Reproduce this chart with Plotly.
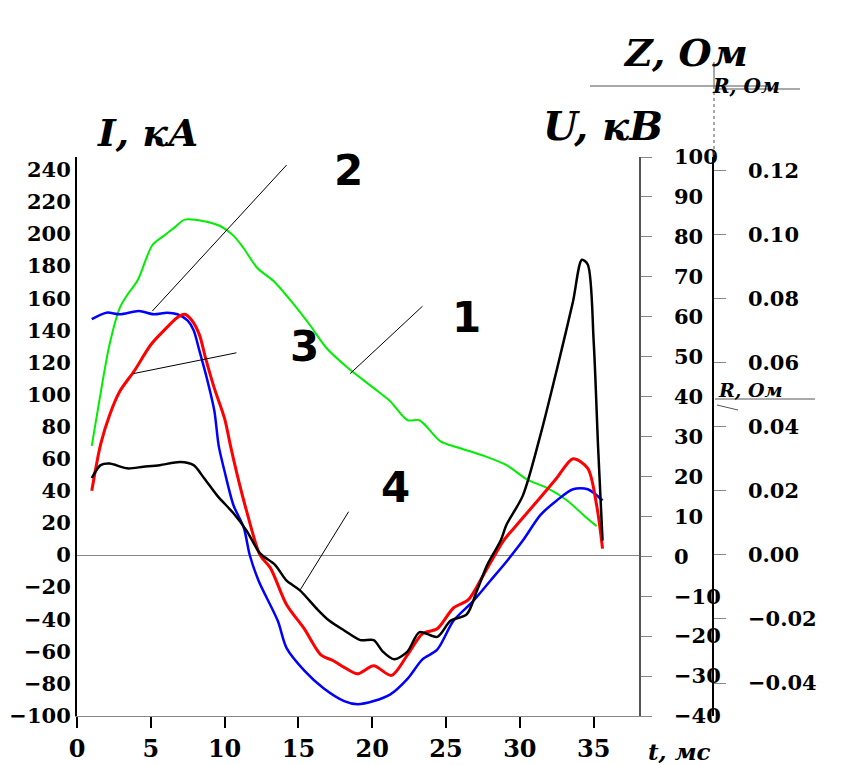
import plotly.graph_objects as go

# ---------------- data ----------------
t1 = [1.0, 1.4, 2.2, 2.9, 3.4, 4.1, 5.1, 5.9, 6.6, 7.3, 8.6, 9.7, 10.6, 11.3, 12.2, 13.4, 14.7,
      15.8, 16.9, 18.3, 20.1, 21.2, 22.4, 23.2, 24.6, 25.8, 27.5, 29.1, 30.5, 31.8, 33.2, 34.3, 35.2]
v1 = [68, 90, 131, 154, 162, 171, 193, 199, 204, 209, 208, 205, 199, 191, 179, 170, 156,
      143, 129, 117, 104, 96, 84, 84, 71, 67, 62, 56, 47, 42, 34, 25, 18]

t2 = [1.0, 2.0, 2.9, 4.2, 5.2, 6.1, 6.8, 7.5, 7.9, 8.3, 8.8, 9.3, 9.6, 10.0, 10.6, 11.3, 11.7, 12.3,
      13.6, 14.2, 15.4, 16.7, 18.1, 19.0, 20.1, 21.2, 22.4, 23.4, 24.4, 25.5, 26.8, 28.0, 29.1,
      30.2, 31.4, 32.5, 33.6, 34.6, 35.6]
v2 = [147, 151, 150, 152, 150, 151, 150, 146, 140, 127, 110, 90, 68, 52, 31, 17, 0, -16,
      -41, -58, -72, -83, -91, -93, -91, -87, -77, -65, -59, -41, -29, -16, -4,
      9, 25, 34, 41, 41, 34]

t3 = [1.0, 1.6, 2.2, 2.9, 3.9, 5.0, 5.9, 6.8, 7.3, 7.8, 8.3, 8.7, 9.3, 10.0, 10.4, 10.8, 11.5,
      12.4, 13.1, 14.2, 15.4, 16.5, 17.4, 18.1, 19.0, 20.1, 21.3, 22.4, 23.4, 24.4, 25.5, 26.5,
      27.5, 28.9, 30.0, 31.4, 32.5, 33.6, 34.6, 35.2, 35.6]
v3 = [40, 69, 87, 102, 115, 131, 140, 148, 150, 146, 137, 123, 104, 85, 68, 52, 27,
      0, -8, -31, -46, -62, -66, -70, -74, -69, -75, -62, -49, -46, -33, -28,
      -13, 9, 21, 36, 48, 60, 54, 31, 4]

t4 = [1.0, 1.6, 2.2, 3.4, 4.5, 5.6, 7.0, 7.9, 8.6, 9.5, 10.6, 11.5, 12.4, 13.4, 14.2, 15.1,
      16.3, 17.1, 18.1, 19.2, 20.1, 20.7, 21.5, 22.4, 23.2, 24.4, 25.3, 26.4, 27.1, 27.8,
      28.7, 29.1, 30.2, 31.4, 32.7, 33.6, 34.2, 34.6, 35.0, 35.3, 35.6]
v4 = [48, 56, 57, 54, 55, 56, 58, 56, 48, 37, 26, 15, 1, -6, -16, -22,
      -34, -41, -47, -53, -53, -60, -65, -60, -48, -51, -41, -37, -22, -6,
      9, 19, 37, 75, 123, 158, 184, 181, 133, 67, 9]

x_ticks = [0, 5, 10, 15, 20, 25, 30, 35]
i_ticks = list(range(-100, 241, 20))
u_ticks = list(range(-40, 101, 10))
r_ticks = [-0.04, -0.02, 0.0, 0.02, 0.04, 0.06, 0.08, 0.10, 0.12]

curve_labels = ["1", "2", "3", "4"]
# leader lines: (label end) -> (point on curve), in data units
leaders = [((23.4, 155), (18.5, 113)),
           ((14.2, 243), (5.1, 152)),
           ((10.8, 126), (3.8, 113)),
           ((18.4, 27), (15.1, -22))]

# ---------------- figure ----------------
W, H = 852, 765
L, R, T, B = 77, 92, 157, 49
PW = W - L - R
PH = H - T - B


def px(x):
    return (x - L) / PW


def py(y):
    return (H - B - y) / PH


label_px = [(466, 291), (348, 144), (288, 346), (395, 487)]

tickfont = dict(family="DejaVu Serif", size=21, color="black", weight="bold")

fig = go.Figure()
fig.add_trace(go.Scatter(x=t1, y=v1, mode="lines", line=dict(color="#00ee00", width=2, shape="spline", smoothing=0.8), showlegend=False))
fig.add_trace(go.Scatter(x=t2, y=v2, mode="lines", line=dict(color="#0000ff", width=2.5, shape="spline", smoothing=0.8), showlegend=False))
fig.add_trace(go.Scatter(x=t3, y=v3, mode="lines", line=dict(color="#ff0000", width=3, shape="spline", smoothing=0.8), showlegend=False))
fig.add_trace(go.Scatter(x=t4, y=v4, mode="lines", line=dict(color="#000000", width=2.5, shape="spline", smoothing=0.8), showlegend=False))

# invisible traces to activate the extra axes
fig.add_trace(go.Scatter(x=[0], y=[0], yaxis="y2", mode="markers", marker=dict(opacity=0), showlegend=False, hoverinfo="skip"))
fig.add_trace(go.Scatter(x=[0], y=[0], yaxis="y3", mode="markers", marker=dict(opacity=0), showlegend=False, hoverinfo="skip"))

x_end = 38.07
fig.update_layout(
    width=W, height=H,
    margin=dict(l=L, r=R, t=T, b=B, pad=0, autoexpand=False),
    paper_bgcolor="white", plot_bgcolor="white",
    xaxis=dict(domain=[0, (639 - L) / PW], range=[0, x_end], tickvals=x_ticks, automargin=False,
               showline=True, linecolor="#888888", linewidth=1, ticks="outside", ticklen=11,
               tickcolor="black", tickwidth=1.5, showgrid=False, zeroline=False,
               tickfont=dict(family="DejaVu Serif", size=24, color="black", weight="bold")),
    yaxis=dict(range=[-100.3, 248], tickvals=i_ticks, showline=True, linecolor="black", linewidth=2,
               ticks="", showgrid=False, zeroline=True, zerolinecolor="#888888", zerolinewidth=1,
               automargin=False, tickfont=tickfont),
    yaxis2=dict(overlaying="y", side="right", anchor="x", range=[-40, 100], tickvals=u_ticks,
                showline=True, linecolor="#555555", linewidth=1.5, ticks="outside", ticklen=11,
                tickcolor="#888888", showgrid=False, zeroline=False, ticklabelstandoff=18,
                automargin=False, tickfont=tickfont),
    yaxis3=dict(overlaying="y", side="right", anchor="free", position=(713 - L) / PW,
                range=[-0.0503, 0.1242], tickvals=r_ticks, tickformat=".2f",
                showline=True, linecolor="black", linewidth=1.5, ticks="outside", ticklen=12,
                tickcolor="#888888", showgrid=False, zeroline=False, ticklabelstandoff=18,
                automargin=False, tickfont=tickfont),
)

# leader lines for curve numbers
for (a, b) in leaders:
    fig.add_shape(type="line", xref="x", yref="y", x0=a[0], y0=a[1], x1=b[0], y1=b[1],
                  line=dict(color="black", width=1))

for lab, (x, y) in zip(curve_labels, label_px):
    fig.add_annotation(x=px(x), y=py(y), xref="paper", yref="paper", text=lab, showarrow=False,
                       font=dict(family="DejaVu Sans", size=42, color="black", weight="bold"))

# axis titles
titles = [("I, кА", 95, 108, 38), ("U, кВ", 665, 100, 40), ("Z, Ом", 750, 28, 38),
          ("R, Ом", 782, 72, 20), ("R, Ом", 785, 390, 19)]
for txt, x, y, s in titles:
    fig.add_annotation(x=px(x), y=py(y), xref="paper", yref="paper", text=txt, showarrow=False,
                       font=dict(family="DejaVu Serif", size=s, color="black", style="italic",
                                 weight="bold"))
fig.add_annotation(x=px(712), y=py(737), xref="paper", yref="paper", text="t, мс", showarrow=False,
                   yanchor="top", borderpad=0,
                   font=dict(family="DejaVu Serif", size=23, color="black", style="italic",
                             weight="bold"))

# decorative guide lines near the right-hand titles
deco = [((714, 62), (714, 86), "solid"), ((714, 86), (714, 157), "dot"),
        ((590, 86), (770, 86), "solid"), ((719, 89), (800, 89), "solid"),
        ((715, 399), (815, 399), "solid"), ((717, 405), (738, 410), "solid")]
for (a, b, d) in deco:
    fig.add_shape(type="line", xref="paper", yref="paper", x0=px(a[0]), y0=py(a[1]),
                  x1=px(b[0]), y1=py(b[1]), line=dict(color="#555555", width=1, dash=d))

fig.write_html("out.html", config={"displayModeBar": False},
               post_script="document.body.style.margin='0px';document.body.style.overflow='hidden';")
